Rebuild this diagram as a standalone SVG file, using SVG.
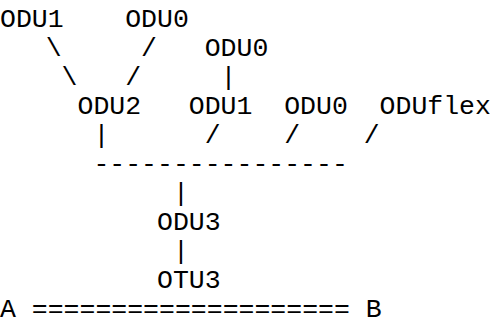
<svg xmlns="http://www.w3.org/2000/svg" width="494" height="326" viewBox="0 0 494 326">
  <style>
    text { font-family: "Liberation Mono", "Courier New", monospace; font-size: 26.5px; fill: #000; white-space: pre; }
  </style>
  <rect width="494" height="326" fill="#fff"/>
  <!-- character cell 15.9px wide (x = col*15.9 - 2), rows 29px apart -->
  <g id="connectors">
    <text x="45.7" y="55.5">\</text>
    <text x="141.1" y="55.5">/</text>
    <text x="61.6" y="84.5">\</text>
    <text x="125.2" y="84.5">/</text>
    <text x="220.6" y="84.5">|</text>
    <text x="93.4" y="142.5">|</text>
    <text x="204.7" y="142.5">/</text>
    <text x="284.2" y="142.5">/</text>
    <text x="363.7" y="142.5">/</text>
    <text x="93.4" y="171.5">----------------</text>
    <text x="172.9" y="200.5">|</text>
    <text x="172.9" y="258.5">|</text>
  </g>
  <g id="odu1-top"><text x="0" y="26.5">ODU1</text></g>
  <g id="odu0-top"><text x="125.2" y="26.5">ODU0</text></g>
  <g id="odu0-upper"><text x="204.7" y="55.5">ODU0</text></g>
  <g id="odu2"><text x="77.5" y="113.5">ODU2</text></g>
  <g id="odu1-mid"><text x="188.8" y="113.5">ODU1</text></g>
  <g id="odu0-mid"><text x="284.2" y="113.5">ODU0</text></g>
  <g id="oduflex"><text x="379.6" y="113.5">ODUflex</text></g>
  <g id="odu3"><text x="157" y="229.5">ODU3</text></g>
  <g id="otu3"><text x="157" y="287.5">OTU3</text></g>
  <g id="link"><text x="0" y="316.5">A ==================== B</text></g>
</svg>
